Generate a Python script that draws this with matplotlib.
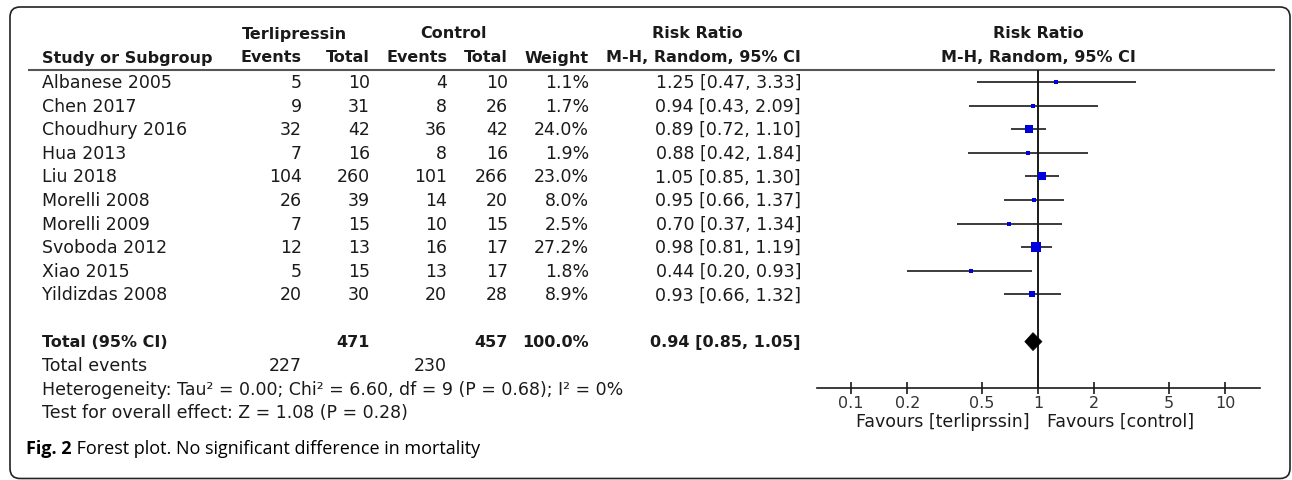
import matplotlib
matplotlib.use("Agg")
import matplotlib.pyplot as plt
from matplotlib.patches import FancyBboxPatch, Polygon
import numpy as np

# ---------------- data ----------------
studies = ["Albanese 2005", "Chen 2017", "Choudhury 2016", "Hua 2013", "Liu 2018",
           "Morelli 2008", "Morelli 2009", "Svoboda 2012", "Xiao 2015", "Yildizdas 2008"]
t_events = [5, 9, 32, 7, 104, 26, 7, 12, 5, 20]
t_total = [10, 31, 42, 16, 260, 39, 15, 13, 15, 30]
c_events = [4, 8, 36, 8, 101, 14, 10, 16, 13, 20]
c_total = [10, 26, 42, 16, 266, 20, 15, 17, 17, 28]
weights = [1.1, 1.7, 24.0, 1.9, 23.0, 8.0, 2.5, 27.2, 1.8, 8.9]
rr = [1.25, 0.94, 0.89, 0.88, 1.05, 0.95, 0.70, 0.98, 0.44, 0.93]
rr_lo = [0.47, 0.43, 0.72, 0.42, 0.85, 0.66, 0.37, 0.81, 0.20, 0.66]
rr_hi = [3.33, 2.09, 1.10, 1.84, 1.30, 1.37, 1.34, 1.19, 0.93, 1.32]

total_t, total_c, total_w = 471, 457, 100.0
total_rr, total_lo, total_hi = 0.94, 0.85, 1.05
events_t, events_c = 227, 230
heterogeneity = "Heterogeneity: Tau\u00b2 = 0.00; Chi\u00b2 = 6.60, df = 9 (P = 0.68); I\u00b2 = 0%"
overall = "Test for overall effect: Z = 1.08 (P = 0.28)"
tick_vals = [0.1, 0.2, 0.5, 1, 2, 5, 10]
tick_labels = ["0.1", "0.2", "0.5", "1", "2", "5", "10"]
fav_left = "Favours [terliprssin]"
fav_right = "Favours [control]"
caption_bold = "Fig. 2"
caption_text = " Forest plot. No significant difference in mortality"

# ---------------- layout ----------------
W, H = 1292, 481
Y0, DY = 83.0, 23.6          # pixel y of first study row and row spacing
def rowy(i):
    return Y0 + DY * i

FS = 12.5
FSB = 11.5
TXT = "#1a1a1a"

fig = plt.figure(figsize=(W / 100, H / 100), dpi=100)
fig.patch.set_facecolor("white")
ax = fig.add_axes([0, 0, 1, 1])
ax.set_xlim(0, W)
ax.set_ylim(H, 0)
ax.axis("off")

# frame
frame = FancyBboxPatch((10, 8), 1280, 471.5, boxstyle="round,pad=0,rounding_size=10",
                       fill=False, ec="#222222", lw=1.2)
ax.add_patch(frame)

# column right edges
x_name = 42
x_te, x_tt, x_ce, x_ct, x_w, x_ci = 302, 370, 447, 508, 589, 801

# headers
hy1, hy2 = 34, 58
ax.text(242, hy1, "Terlipressin", fontsize=FSB, fontweight="bold", color=TXT, ha="left", va="center")
ax.text(420, hy1, "Control", fontsize=FSB, fontweight="bold", color=TXT, ha="left", va="center")
ax.text(697, hy1, "Risk Ratio", fontsize=FSB, fontweight="bold", color=TXT, ha="center", va="center")
ax.text(1038, hy1, "Risk Ratio", fontsize=FSB, fontweight="bold", color=TXT, ha="center", va="center")
ax.text(x_name, hy2, "Study or Subgroup", fontsize=FSB, fontweight="bold", color=TXT, ha="left", va="center")
for xr, lab in [(x_te, "Events"), (x_tt, "Total"), (x_ce, "Events"), (x_ct, "Total"),
                (x_w, "Weight"), (x_ci, "M-H, Random, 95% CI")]:
    ax.text(xr, hy2, lab, fontsize=FSB, fontweight="bold", color=TXT, ha="right", va="center")
ax.text(1038, hy2, "M-H, Random, 95% CI", fontsize=FSB, fontweight="bold", color=TXT, ha="center", va="center")

# header line
ax.plot([28, 1275], [70.5, 70.5], color="#555555", lw=1.5, solid_capstyle="butt")

# study rows
for i, s in enumerate(studies):
    y = rowy(i)
    ax.text(x_name, y, s, fontsize=FS, color=TXT, ha="left", va="center")
    ax.text(x_te, y, str(t_events[i]), fontsize=FS, color=TXT, ha="right", va="center")
    ax.text(x_tt, y, str(t_total[i]), fontsize=FS, color=TXT, ha="right", va="center")
    ax.text(x_ce, y, str(c_events[i]), fontsize=FS, color=TXT, ha="right", va="center")
    ax.text(x_ct, y, str(c_total[i]), fontsize=FS, color=TXT, ha="right", va="center")
    ax.text(x_w, y, f"{weights[i]:.1f}%", fontsize=FS, color=TXT, ha="right", va="center")
    ax.text(x_ci, y, f"{rr[i]:.2f} [{rr_lo[i]:.2f}, {rr_hi[i]:.2f}]", fontsize=FS, color=TXT,
            ha="right", va="center")

# total rows
yt = rowy(11)
ax.text(x_name, yt, "Total (95% CI)", fontsize=FSB, fontweight="bold", color=TXT, ha="left", va="center")
ax.text(x_tt, yt, str(total_t), fontsize=FSB, fontweight="bold", color=TXT, ha="right", va="center")
ax.text(x_ct, yt, str(total_c), fontsize=FSB, fontweight="bold", color=TXT, ha="right", va="center")
ax.text(x_w, yt, f"{total_w:.1f}%", fontsize=FSB, fontweight="bold", color=TXT, ha="right", va="center")
ax.text(x_ci, yt, f"{total_rr:.2f} [{total_lo:.2f}, {total_hi:.2f}]", fontsize=FSB, fontweight="bold",
        color=TXT, ha="right", va="center")
ye = rowy(12)
ax.text(x_name, ye, "Total events", fontsize=FS, color=TXT, ha="left", va="center")
ax.text(x_te, ye, str(events_t), fontsize=FS, color=TXT, ha="right", va="center")
ax.text(x_ce, ye, str(events_c), fontsize=FS, color=TXT, ha="right", va="center")
ax.text(x_name, rowy(13), heterogeneity, fontsize=FS, color=TXT, ha="left", va="center")
ax.text(x_name, rowy(14), overall, fontsize=FS, color=TXT, ha="left", va="center")

# favours labels
ax.text(1030, 422, fav_left, fontsize=FS, color=TXT, ha="right", va="center")
ax.text(1047, 422, fav_right, fontsize=FS, color=TXT, ha="left", va="center")

# caption
cap = ax.text(26, 449, caption_bold, fontsize=13, fontweight="bold", family="Open Sans",
              color="black", ha="left", va="center")
ax.annotate(caption_text, xy=(1, 0.5), xycoords=cap, fontsize=13, family="Open Sans",
            color="black", ha="left", va="center")

# ---------------- forest axes ----------------
x_left, x_right, x_one, ppd = 817, 1260, 1038, 187.0
y_axis, y_top = 389, 70.5
fax = fig.add_axes([x_left / W, (H - y_axis) / H, (x_right - x_left) / W, (y_axis - y_top) / H])
fax.set_xscale("log")
fax.set_xlim(10 ** (-(x_one - x_left) / ppd), 10 ** ((x_right - x_one) / ppd))
fax.set_ylim((y_axis - Y0) / DY, (y_top - Y0) / DY)
fax.patch.set_alpha(0)
for sp in ["top", "left", "right"]:
    fax.spines[sp].set_visible(False)
fax.spines["bottom"].set_linewidth(1.2)
fax.spines["bottom"].set_color("#1a1a1a")
fax.set_yticks([])
fax.set_xticks(tick_vals)
fax.set_xticklabels(tick_labels)
fax.xaxis.set_minor_locator(matplotlib.ticker.NullLocator())
fax.tick_params(axis="x", direction="inout", length=8.5, width=1.2, color="#1a1a1a",
                labelsize=11.5, labelcolor="#333333", pad=0.5)

fax.axvline(1, color="#1a1a1a", lw=1.4)
rows = np.arange(len(studies))
fax.hlines(rows, rr_lo, rr_hi, color="#1a1a1a", lw=1.2)
sizes_px = np.maximum(9.2 * np.sqrt(np.array(weights) / 27.2), 3.4)
for i in rows:
    fax.plot(rr[i], i, marker="s", ms=sizes_px[i] * 0.72, mew=0, color="#0000dd", zorder=3)

dh = 0.38
diamond = Polygon([(total_lo, 11), (total_rr, 11 - dh), (total_hi, 11), (total_rr, 11 + dh)],
                  closed=True, fc="black", ec="black", lw=0.5, zorder=3)
fax.add_patch(diamond)

fig.savefig("out.png", dpi=100, facecolor="white")
